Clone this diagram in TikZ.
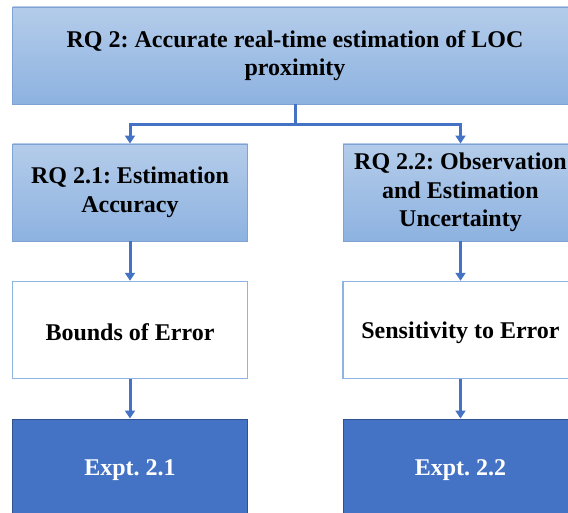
\documentclass[tikz,border=0pt]{standalone}
\usepackage{fontspec}
\setmainfont{Liberation Serif}
\frenchspacing
\usetikzlibrary{arrows.meta,positioning}
\definecolor{accent}{HTML}{4472C4}
\definecolor{accentdark}{HTML}{2F528F}
\definecolor{gradtop}{HTML}{B4CCEA}
\definecolor{gradbot}{HTML}{8DB2E0}
\definecolor{gradline}{HTML}{7EA2D2}
\definecolor{lightline}{HTML}{8EB4E3}
\tikzset{
  base/.style={rectangle, minimum height=97pt, align=center,
    font=\fontsize{24}{28.5}\selectfont\bfseries\frenchspacing, inner sep=0pt,
    execute at begin node={\rule{0pt}{22pt}}},
  rqbox/.style={base, top color=gradtop, bottom color=gradbot, draw=gradline, line width=0.9pt},
  plainbox/.style={base, fill=white, draw=lightline, line width=1.4pt, minimum width=235pt},
  exptbox/.style={base, fill=accent, draw=accentdark, line width=1pt, text=white, minimum width=235pt},
  arr/.style={draw=accent, line width=3pt, -{Triangle[width=10pt,length=8pt]}},
  conn/.style={draw=accent, line width=3pt}
}
\begin{document}
\begin{tikzpicture}[x=1pt,y=1pt]
\useasboundingbox (0,0) rectangle (568,-513);
\node[rqbox, minimum width=565pt] (top) at (295,-55.5)
  {RQ 2: Accurate real-time estimation of LOC\\proximity};
\node[rqbox, minimum width=235pt] (m1) at (130,-192.5)
  {RQ 2.1: Estimation\\Accuracy};
\node[rqbox, minimum width=235pt] (m2) at (460.5,-192.5)
  {RQ 2.2: Observation\\and Estimation\\Uncertainty};
\node[plainbox] (b1) at (130,-330) {Bounds of Error};
\node[plainbox] (b2) at (460.5,-330) {Sensitivity to Error};
\node[exptbox] (e1) at (130,-467.5) {Expt. 2.1};
\node[exptbox] (e2) at (460.5,-467.5) {Expt. 2.2};
\coordinate (j) at (295,-125);
\draw[conn] (top.south) -- (j);
\draw[arr] (j) -| (m1.north);
\draw[arr] (j) -| (m2.north);
\draw[arr] (m1.south) -- (b1.north);
\draw[arr] (m2.south) -- (b2.north);
\draw[arr] (b1.south) -- (e1.north);
\draw[arr] (b2.south) -- (e2.north);
\end{tikzpicture}
\end{document}
